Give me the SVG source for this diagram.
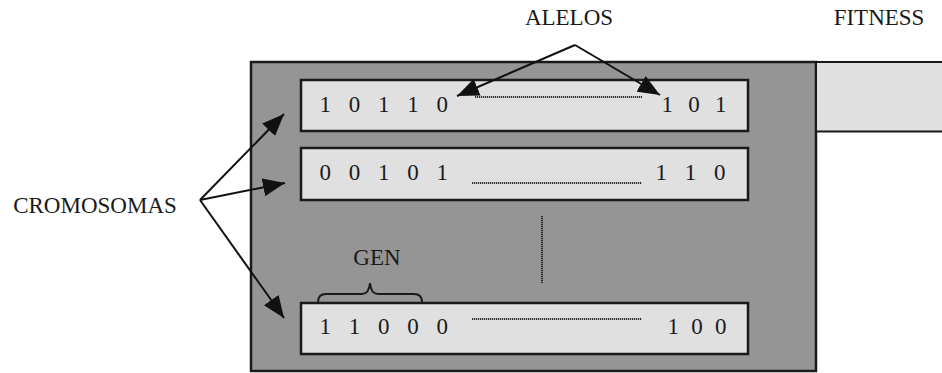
<svg xmlns="http://www.w3.org/2000/svg" width="942" height="373" viewBox="0 0 942 373">
<defs>
<style>
.lbl{font-family:"Liberation Serif","Times New Roman",serif;font-size:23px;fill:#1a1a1a}
.dig{font-family:"Liberation Serif","Times New Roman",serif;font-size:23px;fill:#1a1a1a}
.row{fill:#e0e0e0;stroke:#1a1a1a;stroke-width:2.5}
.dot{stroke:#2a2a2a;stroke-width:2;stroke-dasharray:1.2 0.8;fill:none}
.arr{stroke:#111;stroke-width:2;fill:none;marker-end:url(#ah)}
</style>
<marker id="ah" markerUnits="userSpaceOnUse" markerWidth="24" markerHeight="18" refX="22" refY="9" orient="auto" viewBox="0 0 24 18">
<path d="M0,0 L22,9 L0,18 Z" fill="#111"/>
</marker>
</defs>
<rect width="942" height="373" fill="#fff"/>
<g id="population">
<rect x="251" y="62" width="565" height="309" fill="#959595" stroke="#1a1a1a" stroke-width="2.5"/>
</g>
<g id="fitness-box">
<rect x="816" y="62" width="130" height="69.5" fill="#e0e0e0" stroke="#1a1a1a" stroke-width="2"/>
</g>
<g id="row1">
<rect class="row" x="301" y="80" width="447" height="51"/>
<text class="dig" x="319.5" y="112" letter-spacing="6">1 0 1 1 0</text>
<line class="dot" x1="475" y1="97" x2="642" y2="97"/>
<text class="dig" x="661.5" y="112" letter-spacing="4.75">1 0 1</text>
</g>
<g id="row2">
<rect class="row" x="301" y="148" width="447" height="52"/>
<text class="dig" x="319.5" y="180" letter-spacing="6">0 0 1 0 1</text>
<line class="dot" x1="472" y1="183" x2="642" y2="183"/>
<text class="dig" x="655.5" y="180" letter-spacing="6">1 1 0</text>
</g>
<g id="ellipsis">
<line class="dot" x1="542" y1="216" x2="542" y2="283"/>
</g>
<g id="row3">
<rect class="row" x="301" y="303" width="447" height="51"/>
<text class="dig" x="319.5" y="334" letter-spacing="6">1 1 0 0 0</text>
<line class="dot" x1="472" y1="319" x2="642" y2="319"/>
<text class="dig" x="667.5" y="334" letter-spacing="3.25">1 0 0</text>
</g>
<g id="gen">
<text class="lbl" x="377" y="265" text-anchor="middle">GEN</text>
<path d="M318,302 Q318,294 326,294 L362,294 Q369,294 370,283 Q371,294 378,294 L414,294 Q422,294 422,302" fill="none" stroke="#1a1a1a" stroke-width="2"/>
</g>
<g id="cromosomas">
<text class="lbl" x="95" y="213" text-anchor="middle">CROMOSOMAS</text>
</g>
<g id="alelos">
<text class="lbl" x="569" y="25" text-anchor="middle">ALELOS</text>
</g>
<g id="fitness">
<text class="lbl" x="879" y="25" text-anchor="middle">FITNESS</text>
</g>
<g id="connectors">
<line class="arr" x1="200" y1="200" x2="284" y2="114"/>
<line class="arr" x1="200" y1="200" x2="285" y2="183"/>
<line class="arr" x1="200" y1="200" x2="284" y2="318"/>
<line class="arr" x1="575" y1="45" x2="457" y2="96"/>
<line class="arr" x1="575" y1="45" x2="660" y2="95"/>
</g>
</svg>
